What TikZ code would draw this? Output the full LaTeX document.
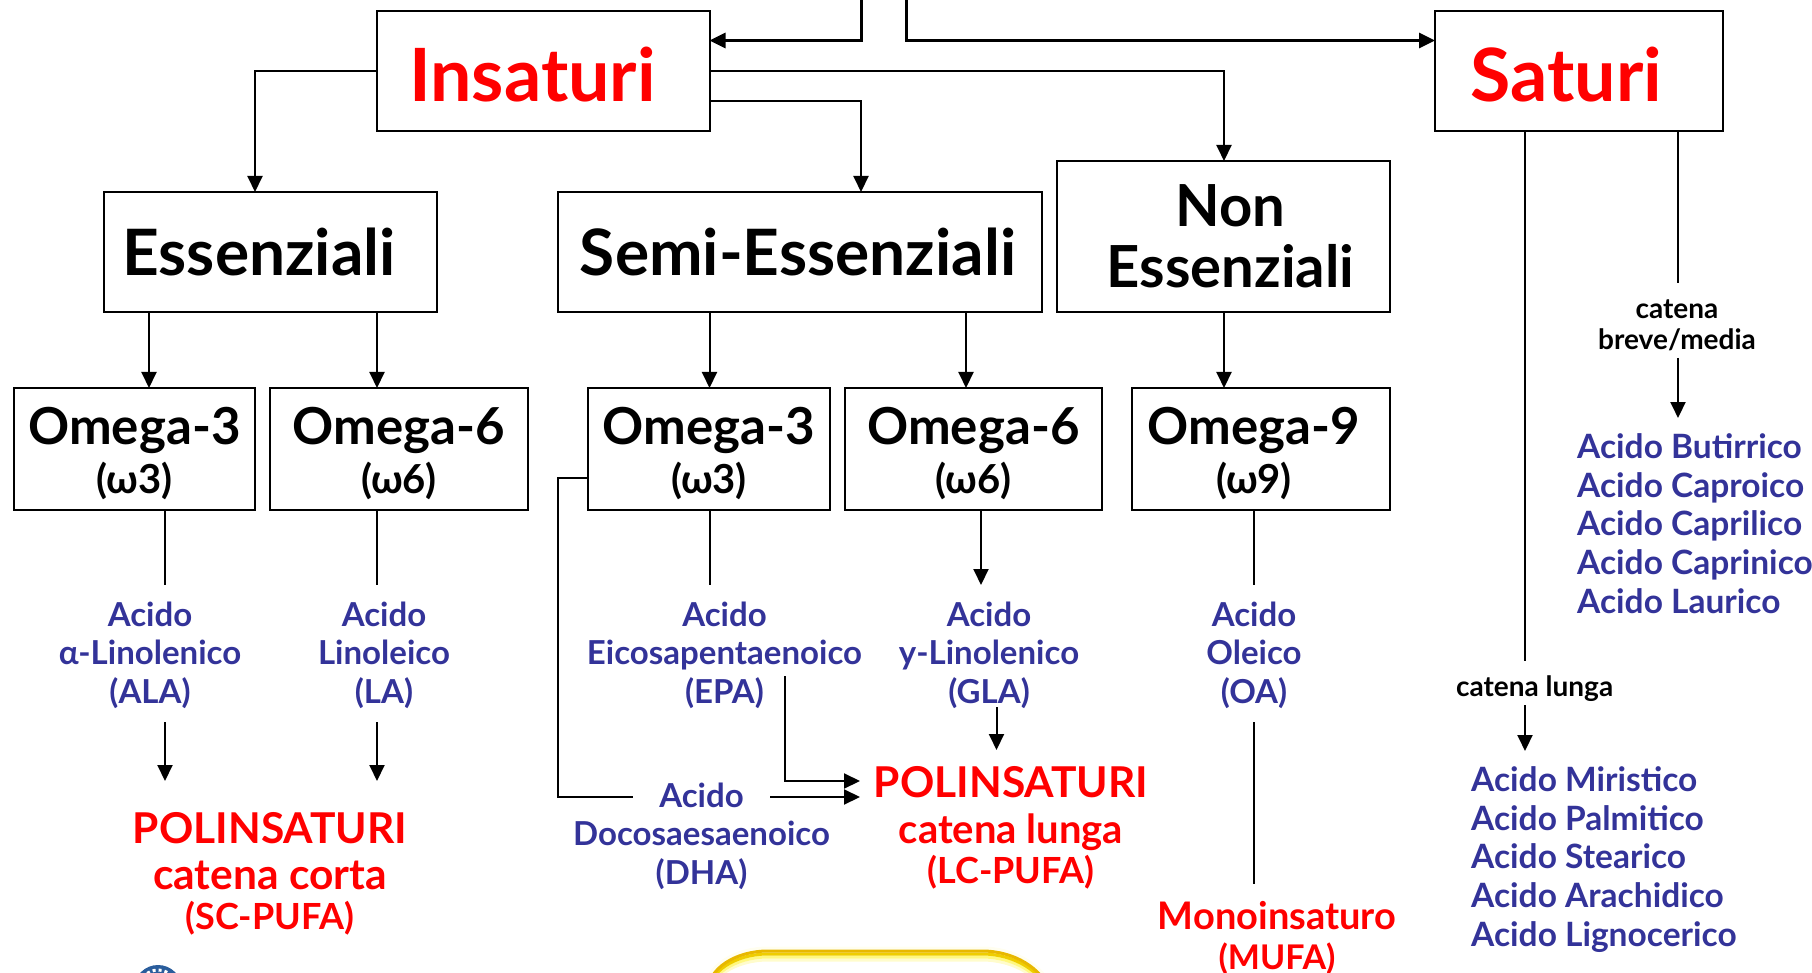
\documentclass[tikz,border=0pt]{standalone}
\usepackage{fontspec}
\setmainfont{Lato}
\usetikzlibrary{arrows.meta}
\definecolor{acidblue}{HTML}{333399}
\definecolor{pufared}{HTML}{FF0000}
\definecolor{gold}{HTML}{E8B800}
\definecolor{sealblue}{HTML}{2A5D9C}
\tikzset{
  box/.style={draw=black,line width=2pt,outer sep=0pt,inner sep=0pt,align=center,text=black},
  line/.style={draw=black,line width=2pt},
  arr/.style={draw=black,line width=2pt,-{Triangle[length=16pt,width=15pt]}},
  big/.style={font=\fontsize{73.5}{74}\selectfont\bfseries},
  title/.style={font=\fontsize{64}{60}\selectfont\bfseries},
  nontitle/.style={font=\fontsize{58}{61}\selectfont\bfseries},
  acid/.style={text=acidblue,align=center,inner sep=0pt,font=\fontsize{33}{38.4}\selectfont\bfseries},
  acidlist/.style={text=acidblue,align=left,inner sep=0pt,anchor=north west,font=\fontsize{33.5}{38.9}\selectfont\bfseries},
  pufa/.style={text=pufared,align=center,inner sep=0pt,font=\fontsize{42.5}{46}\selectfont\bfseries},
  small/.style={text=black,align=center,inner sep=0pt,font=\fontsize{28}{31.5}\selectfont\bfseries},
  glowpath/.style={line width=3pt,line cap=round},
}
\newcommand{\omegabox}[2]{\rule{0pt}{46pt}{\fontsize{51}{50}\selectfont\bfseries #1}\\[7.5pt]{\fontsize{40}{38}\selectfont\bfseries #2}}
\newcommand{\lumpath}{(708,1000) -- (708,991) .. controls (708,969) and (735,951) .. (768,951) -- (982,951) .. controls (1015,951) and (1042,969) .. (1050,991) -- (1050,1000)}
\begin{document}
\begin{tikzpicture}[x=1pt,y=-1pt]
\useasboundingbox (0,0) rectangle (1812,973);
\clip (0,0) rectangle (1812,973);
% boxes
\node[box,big,text=pufared,minimum width=333pt,minimum height=120.5pt] (ins) at (543,71) {\rule{0pt}{61pt}Insaturi\rule{21pt}{0pt}};
\node[box,big,text=pufared,minimum width=288pt,minimum height=120.5pt] (sat) at (1579,71) {\rule{0pt}{61pt}Saturi\rule{25pt}{0pt}};
\node[box,title,minimum width=333pt,minimum height=120pt] (ess) at (270.5,252) {Essenziali\rule{23pt}{0pt}};
\node[box,title,minimum width=484pt,minimum height=120pt] (semi) at (800,252) {Semi-Essenziali\rule{4pt}{0pt}};
\node[box,nontitle,minimum width=333pt,minimum height=151pt] (non) at (1223.5,236.5) {\rule{14pt}{0pt}Non\\\rule{14pt}{0pt}Essenziali};
\node[box,minimum width=241pt,minimum height=122pt] (a3) at (134.5,449) {\omegabox{Omega-3}{(ω3)}};
\node[box,minimum width=258pt,minimum height=122pt] (a6) at (399,449) {\omegabox{Omega-6}{(ω6)}};
\node[box,minimum width=242pt,minimum height=122pt] (b3) at (709,449) {\omegabox{Omega-3}{(ω3)}};
\node[box,minimum width=257pt,minimum height=122pt] (b6) at (973.5,449) {\omegabox{Omega-6}{(ω6)}};
\node[box,minimum width=258pt,minimum height=122pt] (o9) at (1261,449) {\omegabox{Omega-9\rule{14pt}{0pt}}{(ω9)\rule{14pt}{0pt}}};
% acid labels
\node[acid] (ala) at (150,655) {Acido\\α-Linolenico\\(ALA)};
\node[acid] (la) at (384,655) {Acido\\Linoleico\\(LA)};
\node[acid] (epa) at (724.5,655) {Acido\\Eicosapentaenoico\\(EPA)};
\node[acid] (gla) at (989,655) {Acido\\y-Linolenico\\(GLA)};
\node[acid] (oa) at (1254,655) {Acido\\Oleico\\(OA)};
\node[acid] (dha) at (701.5,836) {Acido\\Docosaesaenoico\\(DHA)};
% red labels
\node[pufa] (sc) at (270,874) {POLINSATURI\\catena corta\\[-6pt]{\fontsize{36}{38}\selectfont(SC-PUFA)}};
\node[pufa] (lc) at (1011,828) {POLINSATURI\\{\fontsize{40}{46}\selectfont catena lunga}\\[-6pt]{\fontsize{36}{38}\selectfont(LC-PUFA)}};
\node[pufa,font=\fontsize{38}{46}\selectfont\bfseries] (mufa) at (1277,916) {Monoinsaturo};
\node[pufa,font=\fontsize{34}{38}\selectfont\bfseries] (mufb) at (1277,959) {(MUFA)};
% saturated lists
\node[small] (cl) at (1534.6,689) {catena lunga};
\node[small] (cb) at (1677,325.5) {catena\\breve/media};
\node[acidlist] (l1) at (1577,433) {Acido Butirrico\\Acido Caproico\\Acido Caprilico\\Acido Caprinico\\Acido Laurico};
\node[acidlist] (l2) at (1471,766) {Acido Miristico\\Acido Palmitico\\Acido Stearico\\Acido Arachidico\\Acido Lignocerico};
% named x positions and free ends
\coordinate (t1) at (861,0);
\coordinate (t2) at (906.5,0);
\coordinate (t1b) at (861,40.5);
\coordinate (t2b) at (906.5,40.5);
\coordinate (vess) at (255,0);
\coordinate (insr) at (0,101);
\coordinate (vnon) at (1224,0);
\coordinate (vsemi) at (861,0);
\coordinate (e3) at (149,0);
\coordinate (e6) at (377,0);
\coordinate (s3) at (709.5,0);
\coordinate (s6) at (966,0);
% top connectors
\draw[arr,line width=3pt] (t1) -- (t1b) -- (t1b -| ins.east);
\draw[arr,line width=3pt] (t2) -- (t2b) -- (t2b -| sat.west);
\draw[arr] (ins.west) -| (vess |- ess.north);
\draw[arr] (ins.east) -| (vnon |- non.north);
\draw[arr] (insr -| ins.east) -| (vsemi |- semi.north);
% level 2
\draw[arr] (ess.south -| e3) -- (a3.north -| e3);
\draw[arr] (ess.south -| e6) -- (a6.north -| e6);
\draw[arr] (semi.south -| s3) -- (b3.north -| s3);
\draw[arr] (semi.south -| s6) -- (b6.north -| s6);
\draw[arr] (non.south -| vnon) -- (o9.north -| vnon);
% level 3
\coordinate (f1) at (165,585);
\coordinate (f2) at (377,585);
\coordinate (f3) at (709.5,585);
\coordinate (f4) at (981,585);
\coordinate (f5) at (1254,585);
\draw[line] (a3.south -| f1) -- (f1);
\draw[line] (a6.south -| f2) -- (f2);
\draw[line] (b3.south -| f3) -- (f3);
\draw[arr] (b6.south -| f4) -- (f4);
\draw[line] (o9.south -| f5) -- (f5);
% to polyunsaturated
\coordinate (g1a) at (165,722); \coordinate (g1b) at (165,781);
\coordinate (g2a) at (377,722); \coordinate (g2b) at (377,781);
\coordinate (g3a) at (996.5,707); \coordinate (g3b) at (996.5,750);
\draw[arr] (g1a) -- (g1b);
\draw[arr] (g2a) -- (g2b);
\draw[arr] (g3a) -- (g3b);
% EPA, DHA
\coordinate (h1) at (784.5,676); \coordinate (h2) at (784.5,781); \coordinate (h3) at (860,781);
\draw[arr] (h1) -- (h2) -- (h3);
\coordinate (d0) at (558,478); \coordinate (d1) at (558,797); \coordinate (d2) at (633,797);
\coordinate (d3) at (770,797); \coordinate (d4) at (860,797);
\draw[line] (d0 -| b3.west) -- (d0) -- (d1) -- (d2);
\draw[arr] (d3) -- (d4);
% OA to MUFA
\coordinate (m1) at (1254,722); \coordinate (m2) at (1254,884);
\draw[line] (m1) -- (m2);
% Saturi
\coordinate (k1) at (1525,661); \coordinate (k2) at (1525,705); \coordinate (k3) at (1525,751);
\coordinate (k4) at (1678,283); \coordinate (k5) at (1678,358); \coordinate (k6) at (1678,418);
\draw[line] (sat.south -| k1) -- (k1);
\draw[arr] (k2) -- (k3);
\draw[line] (sat.south -| k4) -- (k4);
\draw[arr] (k5) -- (k6);
% bottom decorations
\fill[sealblue] (158,989) circle (24);
\draw[white,line width=3pt,dash pattern=on 3pt off 3pt] (158,989) circle (19);
\draw[yellow!6,line width=9pt] \lumpath;
\begin{scope}[yshift=-9pt]\draw[glowpath,yellow!20] \lumpath;\end{scope}
\begin{scope}[yshift=-6pt]\draw[glowpath,yellow!50] \lumpath;\end{scope}
\begin{scope}[yshift=-3pt]\draw[glowpath,gold!70!yellow] \lumpath;\end{scope}
\draw[glowpath,gold] \lumpath;
\end{tikzpicture}
\end{document}
